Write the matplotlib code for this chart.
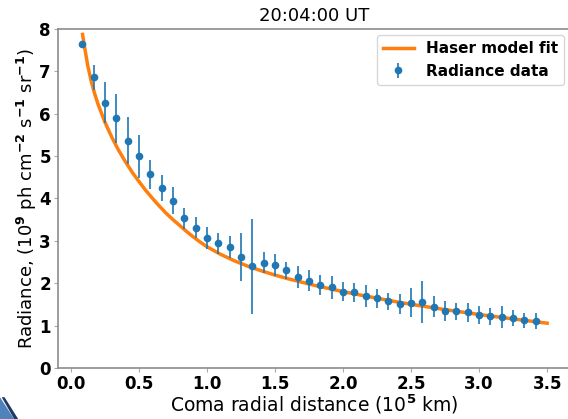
import numpy as np
import matplotlib
matplotlib.use("Agg")
import matplotlib.pyplot as plt
from matplotlib.patches import Polygon

# Radiance data (10^5 km, 10^9 ph cm^-2 s^-1 sr^-1)
dist = [0.083, 0.167, 0.250, 0.333, 0.417, 0.500, 0.583, 0.667, 0.750, 0.833,
        0.917, 1.000, 1.083, 1.167, 1.250, 1.333, 1.417, 1.500, 1.583, 1.667,
        1.750, 1.833, 1.917, 2.000, 2.083, 2.167, 2.250, 2.333, 2.417, 2.500,
        2.583, 2.667, 2.750, 2.833, 2.917, 3.000, 3.083, 3.167, 3.250, 3.333,
        3.417]
rad = [7.64, 6.86, 6.26, 5.89, 5.36, 4.99, 4.57, 4.25, 3.95, 3.53,
       3.31, 3.06, 2.94, 2.86, 2.62, 2.40, 2.48, 2.43, 2.30, 2.15,
       2.06, 1.96, 1.90, 1.80, 1.78, 1.70, 1.64, 1.57, 1.51, 1.54,
       1.56, 1.44, 1.34, 1.34, 1.31, 1.24, 1.22, 1.20, 1.17, 1.12,
       1.10]
rad_err = [0.05, 0.29, 0.49, 0.58, 0.56, 0.50, 0.34, 0.31, 0.32, 0.25,
           0.25, 0.26, 0.25, 0.26, 0.57, 1.12, 0.25, 0.25, 0.21, 0.26,
           0.25, 0.23, 0.27, 0.22, 0.23, 0.26, 0.22, 0.20, 0.23, 0.35,
           0.50, 0.25, 0.23, 0.20, 0.23, 0.21, 0.20, 0.25, 0.19, 0.18,
           0.19]

# Haser model fit
fit_x = [0.086, 0.10, 0.125, 0.15, 0.175, 0.20, 0.25, 0.30, 0.35, 0.40,
         0.45, 0.50, 0.55, 0.60, 0.65, 0.70, 0.75, 0.80, 0.85, 0.90,
         0.95, 1.00, 1.10, 1.20, 1.30, 1.40, 1.50, 1.60, 1.70, 1.80,
         1.90, 2.00, 2.125, 2.25, 2.375, 2.50, 2.75, 3.00, 3.25, 3.50]
fit_y = [7.87, 7.58, 7.12, 6.76, 6.47, 6.22, 5.80, 5.45, 5.14, 4.87,
         4.62, 4.40, 4.19, 4.00, 3.82, 3.65, 3.50, 3.36, 3.22, 3.09,
         2.97, 2.86, 2.68, 2.53, 2.40, 2.29, 2.19, 2.10, 2.02, 1.94,
         1.87, 1.80, 1.72, 1.645, 1.57, 1.50, 1.375, 1.26, 1.155, 1.055]

fig = plt.figure(figsize=(5.68, 4.19), dpi=100)
ax = fig.add_axes([0.102, 0.122, 0.902, 0.809])

ax.plot(fit_x, fit_y, color="C1", linewidth=2.5, label="Haser model fit")
ax.errorbar(dist, rad, yerr=rad_err, fmt="o", color="C0", markersize=4.5,
            elinewidth=1.2, label="Radiance data")

ax.set_xlim(-0.095, 3.67)
ax.set_ylim(0, 8)
ax.set_xticks([0.0, 0.5, 1.0, 1.5, 2.0, 2.5, 3.0, 3.5])
ax.set_yticks(range(0, 9))
for lab in ax.get_xticklabels() + ax.get_yticklabels():
    lab.set_fontweight("bold")
ax.tick_params(labelsize=12, length=3, pad=2, color="#aaaaaa")
for s in ax.spines.values():
    s.set_color("#8c8c8c")
    s.set_linewidth(1.2)

ax.set_title("20:04:00 UT", fontsize=13)
ax.set_xlabel(r"Coma radial distance (10$^{\mathbf{5}}$ km)", fontsize=13.5,
              labelpad=0)
ax.set_ylabel(r"Radiance, (10$^{\mathbf{9}}$ ph cm$^{\mathbf{-2}}$ "
              r"s$^{\mathbf{-1}}$ sr$^{\mathbf{-1}}$)", fontsize=13,
              labelpad=0)

leg = ax.legend(loc="upper right", prop={"weight": "bold", "size": 11},
                borderaxespad=0.4)

# slide decoration in the bottom-left corner
fig.patches.append(Polygon([[0, 0], [0, 0.052], [0.025, 0]], closed=True,
                           transform=fig.transFigure, facecolor="#4f81bd",
                           edgecolor="none"))
fig.patches.append(Polygon([[0.008, 0.052], [0.003, 0.052], [0.025, 0], [0.032, 0]],
                           closed=True, transform=fig.transFigure,
                           facecolor="#1f3864", edgecolor="none"))

fig.savefig("out.png", dpi=100)
